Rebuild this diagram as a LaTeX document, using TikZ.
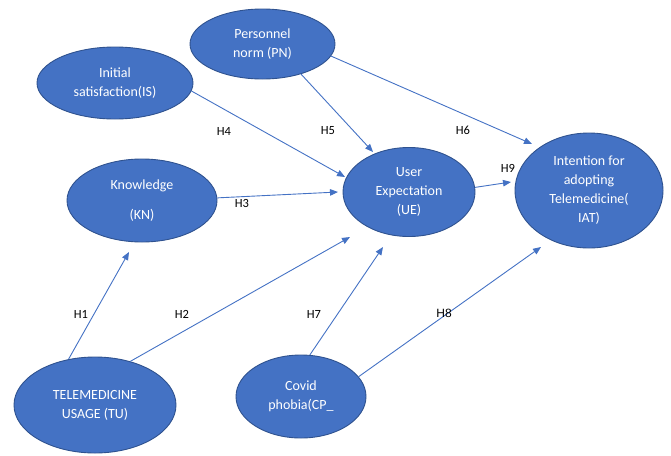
\documentclass[tikz,border=0pt]{standalone}
\usepackage{fontspec}
\setmainfont{Carlito}
\newfontfamily\arialfont{Liberation Sans}
\usetikzlibrary{arrows.meta,shapes.geometric}
\definecolor{ofblue}{HTML}{4472C4}
\definecolor{ofedge}{HTML}{2F528F}
\begin{document}
\begin{tikzpicture}[x=1pt,y=-1pt,
  construct/.style={ellipse, draw=ofedge, line width=0.9pt, fill=ofblue, text=white,
    inner sep=0pt, align=center, font=\fontsize{14}{19}\selectfont},
  link/.style={draw=ofblue, line width=0.9pt, -{Triangle[length=8pt,width=6.5pt]}},
  hyp/.style={font=\fontsize{12.5}{15}\selectfont, inner sep=0pt, text=black}]
\useasboundingbox (0,0) rectangle (671,455);
% constructs
\node[construct, minimum width=145pt, minimum height=70pt] (pn) at (262.5,44) {Personnel\\norm (PN)};
\node[construct, minimum width=156pt, minimum height=72pt] (is) at (115,83) {Initial\\satisfaction(IS)};
\node[construct, minimum width=150pt, minimum height=83pt] (kn) at (142,200.5) {Knowledge\\[11pt](KN)};
\node[construct, minimum width=132pt, minimum height=89pt] (ue) at (409,192) {User\\Expectation\\(UE)};
\node[construct, minimum width=148pt, minimum height=115pt] (iat) at (589,190.5) {Intention for\\adopting\\Telemedicine(\\IAT)};
\node[construct, minimum width=162pt, minimum height=96pt] (tu) at (95,405) {TELEMEDICINE\\USAGE (TU)};
\node[construct, minimum width=130pt, minimum height=83pt] (cp) at (301,396.5) {Covid\\phobia(CP\_};
% free arrow tips
\coordinate (tISUE) at (345,177);
\coordinate (tPNUE) at (373,152);
\coordinate (tPNIAT) at (532,144);
\coordinate (tKNUE) at (338,192);
\coordinate (tUEIAT) at (511,182);
\coordinate (tTUKN) at (129,252);
\coordinate (tTUUE) at (350,237);
\coordinate (tCPUE) at (383,247);
\coordinate (tCPIAT) at (541,247);
% connectors
\draw[link] (is.-6.6) -- (tISUE);
\draw[link] (pn.-38) -- (tPNUE);
\draw[link] (pn.-10) -- (tPNIAT);
\draw[link] (kn.2) -- (tKNUE);
\draw[link] (ue.4) -- (tUEIAT);
\draw[link] (tu.120) -- (tTUKN);
\draw[link] (tu.51.5) -- (tTUUE);
\draw[link] (cp.78) -- (tCPUE);
\draw[link] (cp.19) -- (tCPIAT);
% hypothesis labels
\node[hyp] (h4) at (224,131) {H4};
\node[hyp] (h5) at (328,131) {H5};
\node[hyp] (h6) at (463,130) {H6};
\node[hyp] (h3) at (242,203) {H3};
\node[hyp] (h9) at (508,168) {H9};
\node[hyp] (h1) at (81,314) {H1};
\node[hyp] (h2) at (182,314) {H2};
\node[hyp] (h7) at (314,314) {H7};
\node[hyp, font=\arialfont\fontsize{12}{14}\selectfont] (h8) at (444,313) {H8};
\end{tikzpicture}
\end{document}
